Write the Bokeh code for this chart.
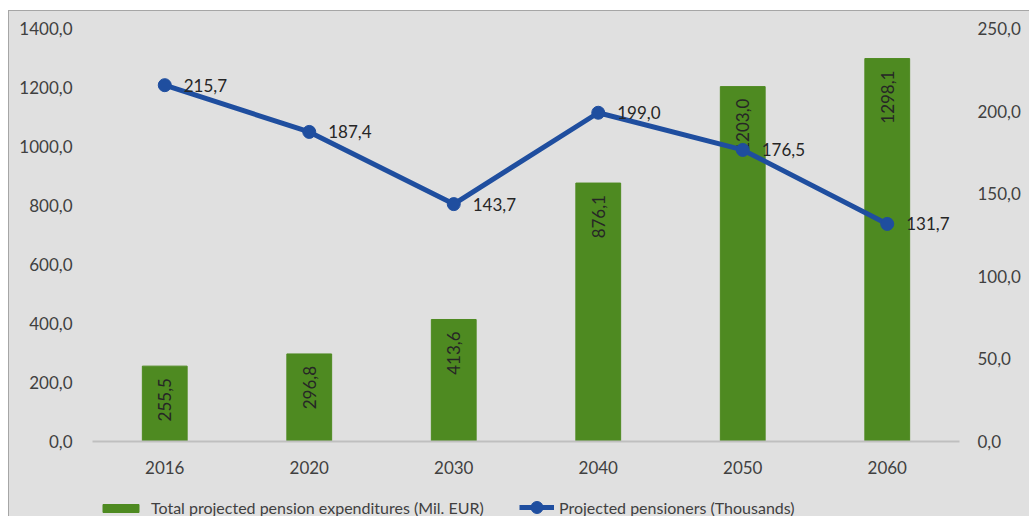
from math import pi
from bokeh.plotting import figure
from bokeh.layouts import column
from bokeh.models import (Range1d, LinearAxis, FactorRange, CustomJSTickFormatter,
                          Legend, LegendItem, ColumnDataSource, SingleIntervalTicker)
from bokeh.core.properties import value
from bokeh.embed import file_html
from bokeh.resources import INLINE

years = ["2016", "2020", "2030", "2040", "2050", "2060"]
expenditures = [255.5, 296.8, 413.6, 876.1, 1203.0, 1298.1]
pensioners = [215.7, 187.4, 143.7, 199.0, 176.5, 131.7]
series_names = ["Total projected pension expenditures (Mil. EUR)",
                "Projected pensioners (Thousands)"]

FONT = "Lato"
GREEN = "#4E8A21"
BLUE = "#1F4E9F"
BG = "#E0E0E0"
TXT = "#404040"

def fmt(v):
    return f"{v:.1f}".replace(".", ",")

src = ColumnDataSource(data=dict(
    year=years, exp=expenditures, pens=pensioners,
    exp_lbl=[fmt(v) for v in expenditures],
    pens_lbl=[fmt(v) for v in pensioners],
))

p = figure(x_range=FactorRange(factors=years), y_range=Range1d(0, 1400),
           width=1020, height=467, output_backend="svg", toolbar_location=None,
           min_border_left=83, min_border_right=70, min_border_top=17, min_border_bottom=37)
p.background_fill_color = BG
p.border_fill_color = BG
p.outline_line_color = None
p.xgrid.visible = False
p.ygrid.visible = False
p.extra_y_ranges = {"right": Range1d(0, 250)}

bars = p.vbar(x="year", top="exp", width=0.31, source=src, fill_color=GREEN, line_color=GREEN)
p.text(x="year", y="exp", text="exp_lbl", source=src, angle=pi / 2,
       text_align="right", text_baseline="middle", y_offset=12,
       text_font=value(FONT), text_font_size="17px", text_color="#262626")
line = p.line(x="year", y="pens", source=src, y_range_name="right", line_width=5, line_color=BLUE)
circ = p.scatter(x="year", y="pens", source=src, y_range_name="right", size=13,
                 fill_color=BLUE, line_color=BLUE)
p.text(x="year", y="pens", text="pens_lbl", source=src, y_range_name="right",
       text_align="left", text_baseline="middle", x_offset=19,
       text_font=value(FONT), text_font_size="17px", text_color="#262626")

fmt_code = "return tick.toFixed(1).replace('.', ',');"

xa = p.xaxis[0]
xa.axis_line_color = "#BFBFBF"
xa.axis_line_width = 2
xa.major_tick_line_color = None
xa.minor_tick_line_color = None
xa.major_label_text_font = FONT
xa.major_label_text_font_size = "17px"
xa.major_label_text_color = TXT
xa.major_label_standoff = 13

ya = p.yaxis[0]
ya.ticker = SingleIntervalTicker(interval=200, num_minor_ticks=0)
ya.formatter = CustomJSTickFormatter(code=fmt_code)
ya.axis_line_color = None
ya.major_tick_line_color = None
ya.minor_tick_line_color = None
ya.major_label_text_font = FONT
ya.major_label_text_font_size = "17px"
ya.major_label_text_color = TXT
ya.major_label_standoff = 14

ra = LinearAxis(y_range_name="right",
                ticker=SingleIntervalTicker(interval=50, num_minor_ticks=0),
                formatter=CustomJSTickFormatter(code=fmt_code))
ra.axis_line_color = None
ra.major_tick_line_color = None
ra.minor_tick_line_color = None
ra.major_label_text_font = FONT
ra.major_label_text_font_size = "17px"
ra.major_label_text_color = TXT
ra.major_label_standoff = 12
p.add_layout(ra, "right")

# legend strip below the chart; its renderers draw the same data far outside its visible range
p2 = figure(width=1020, height=38, x_range=FactorRange(factors=years), y_range=Range1d(5000, 5001),
            output_backend="svg", toolbar_location=None, min_border=0,
            x_axis_location=None, y_axis_location=None)
p2.background_fill_color = BG
p2.border_fill_color = BG
p2.outline_line_color = None
p2.grid.visible = False
p2.extra_y_ranges = {"right": Range1d(5000, 5001)}
lg_bar = p2.vbar(x="year", top="exp", width=0.31, source=src, fill_color=GREEN, line_color=GREEN)
lg_line = p2.line(x="year", y="pens", source=src, y_range_name="right", line_width=5, line_color=BLUE)
lg_circ = p2.scatter(x="year", y="pens", source=src, y_range_name="right", size=13,
                     fill_color=BLUE, line_color=BLUE)

common = dict(orientation="horizontal", background_fill_alpha=0, border_line_alpha=0,
              label_text_font=FONT, label_text_font_size="16px", label_text_color=TXT,
              padding=0, margin=0)
legend1 = Legend(items=[LegendItem(label=series_names[0], renderers=[lg_bar])],
                 location=(6, -1), glyph_width=45, glyph_height=10, label_standoff=8, **common)
legend2 = Legend(items=[LegendItem(label=series_names[1], renderers=[lg_line, lg_circ])],
                 location=(427, -6), glyph_width=35, glyph_height=30, label_standoff=5, **common)
p2.add_layout(legend1, "center")
p2.add_layout(legend2, "center")

layout = column(p, p2, spacing=0,
                styles={"margin-left": "8px", "margin-top": "10px", "background-color": BG,
                        "border-left": "1px solid #A6A6A6", "border-top": "1px solid #A6A6A6"})

open("out.html", "w").write(file_html(layout, INLINE))
